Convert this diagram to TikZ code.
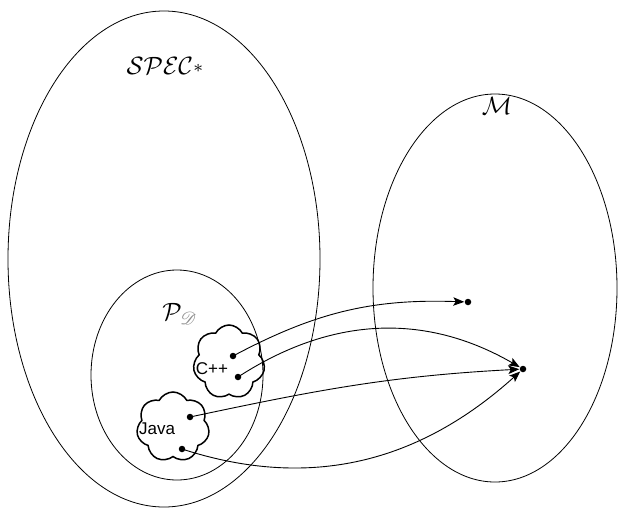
\documentclass[tikz,border=0pt]{standalone}
\usepackage{fontspec}
\usepackage{mathrsfs}
\usepackage{graphicx}
\newfontfamily\labelsans{Liberation Sans}
\usetikzlibrary{shapes.symbols,arrows.meta}
\begin{document}
\begin{tikzpicture}[x=1pt,y=-1pt,
  region/.style={draw,line width=0.8pt},
  lang/.style={cloud,cloud puffs=7,cloud puff arc=125,aspect=1,draw,line width=1.5pt,
    inner sep=0pt},
  elem/.style={circle,fill,inner sep=0pt,outer sep=0pt,minimum size=6.5pt},
  map/.style={line width=0.9pt,-{Stealth[length=11pt,width=8.5pt,inset=2.5pt]},shorten >=0.5pt},
  sanslabel/.style={font=\labelsans\fontsize{17}{17}\selectfont,inner sep=0pt}]
\useasboundingbox (0,0) rectangle (623,509);

% the three sets
\draw[region] (164,259) ellipse [x radius=156, y radius=248];
\draw[region] (495,288) ellipse [x radius=122, y radius=194];
\draw[region] (177,375) ellipse [x radius=86, y radius=105];

\node (spec) at (165,66) {\scalebox{2.5}{$\mathcal{SPEC}$\raisebox{1pt}{$\scriptstyle *$}}};
\node (models) at (497,106) {\scalebox{2.5}{$\mathcal{M}$}};
\node (pd) at (180,314) {\scalebox{2.5}{$\mathcal{P}_{\textcolor{black!45}{\mathscr{D}}}$}};

% language clouds
\node[lang,minimum width=72pt,minimum height=74pt] (cpp) at (229,362) {};
\node[lang,minimum width=73pt,minimum height=70pt] (java) at (173,427) {};
\node[sanslabel] (cpptxt) at (212,369) {C++};
\node[sanslabel] (javatxt) at (157,429) {Java};

% elements
\node[elem] (c1) at (233,356) {};
\node[elem] (c2) at (238,377) {};
\node[elem] (j1) at (190,417) {};
\node[elem] (j2) at (182,449) {};
\node[elem] (m1) at (468,302) {};
\node[elem] (m2) at (523,369) {};

% semantics maps
\draw[map] (c1.center) to[out=28,in=178] (m1);
\draw[map] (c2.center) to[out=33,in=150] (m2);
\draw[map] (j1.center) to[out=12,in=183] (m2);
\draw[map] (j2.center) to[out=-18,in=222] (m2);
\end{tikzpicture}
\end{document}
